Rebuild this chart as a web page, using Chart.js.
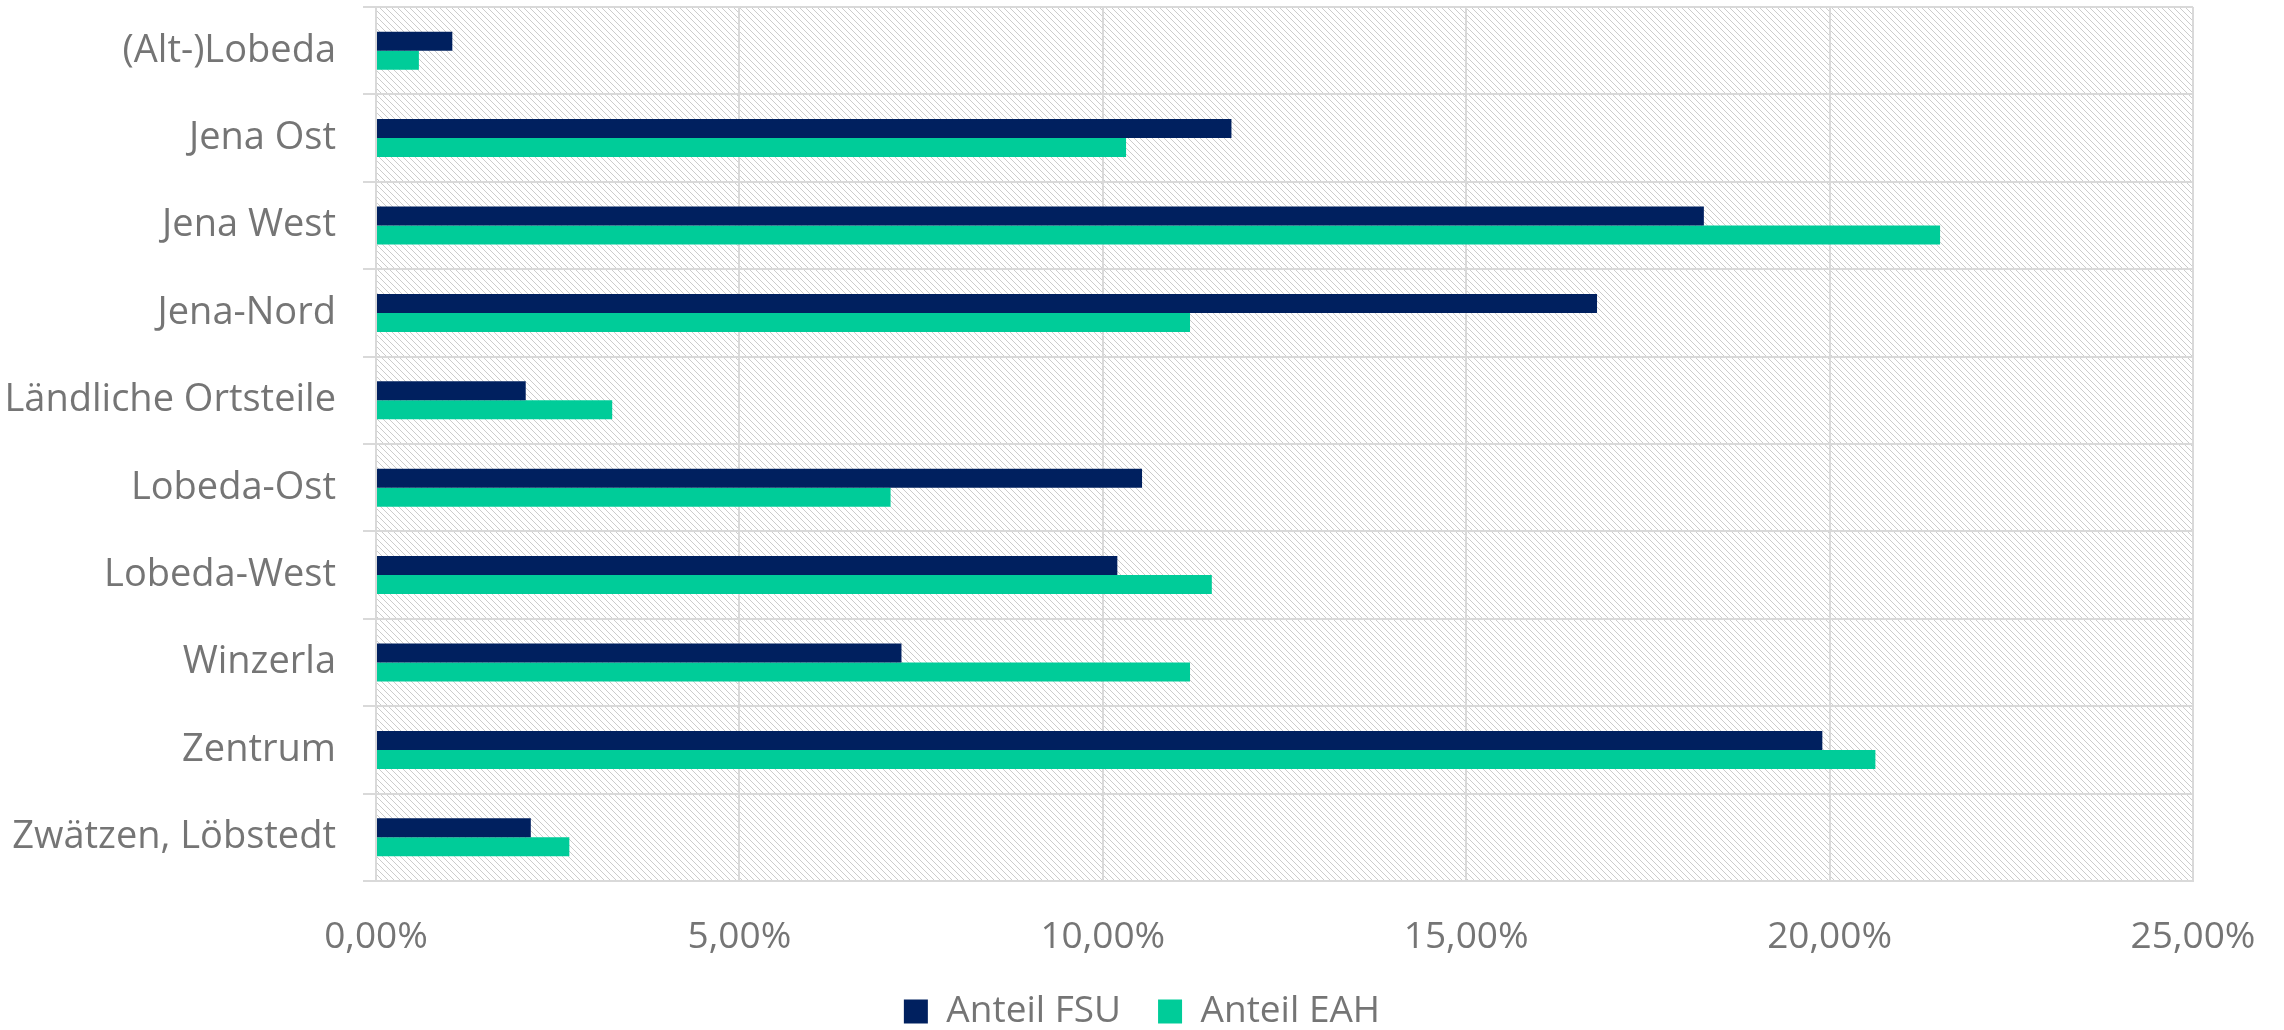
<!DOCTYPE html>
<html>
<head>
<meta charset="utf-8">
<script src="https://cdn.jsdelivr.net/npm/chart.js@4.4.1/dist/chart.umd.min.js"></script>
<style>
  html, body { margin: 0; padding: 0; background: #fff; }
  #wrap { width: 2284px; height: 1030px; }
</style>
</head>
<body>
<div id="wrap"><canvas id="myChart"></canvas></div>
<script>
const categories = [
  "(Alt-)Lobeda",
  "Jena Ost",
  "Jena West",
  "Jena-Nord",
  "Ländliche Ortsteile",
  "Lobeda-Ost",
  "Lobeda-West",
  "Winzerla",
  "Zentrum",
  "Zwätzen, Löbstedt",
];
const anteilFSU = [1.05, 11.77, 18.27, 16.8, 2.06, 10.54, 10.2, 7.23, 19.9, 2.13];
const anteilEAH = [0.59, 10.32, 21.52, 11.2, 3.25, 7.08, 11.5, 11.2, 20.63, 2.66];
const xTicks = [0, 5, 10, 15, 20, 25];

const gridColor = "#d9d9d9";
const textColor = "#757575";
const font = "Open Sans";

// hatched plot background, drawn under the grid
const hatch = {
  id: "hatch",
  beforeDraw(chart) {
    const { ctx, chartArea: a } = chart;
    const tile = document.createElement("canvas");
    tile.width = 6;
    tile.height = 6;
    const t = tile.getContext("2d");
    t.fillStyle = "#fff";
    t.fillRect(0, 0, 6, 6);
    t.fillStyle = "#cccccc";
    for (let i = 0; i < 6; i++) t.fillRect(i, i, 1, 1);
    ctx.save();
    ctx.fillStyle = ctx.createPattern(tile, "repeat");
    ctx.fillRect(a.left, a.top, a.right - a.left, a.bottom - a.top);
    ctx.restore();
  },
};

// center the legend on the whole canvas, not just left of the right padding
const legendShift = {
  id: "legendShift",
  afterLayout(chart) {
    const lg = chart.legend;
    lg.left = 91;
    lg.width = lg.right - lg.left;
  },
};

document.addEventListener("DOMContentLoaded", () => {
  const ctx = document.getElementById("myChart").getContext("2d");

  const data = {
    labels: categories,
    datasets: [
      {
        label: "Anteil FSU",
        data: anteilFSU,
        backgroundColor: "#00205f",
      },
      {
        label: "Anteil EAH",
        data: anteilEAH,
        backgroundColor: "#00cc99",
      },
    ],
  };

  const config = {
    type: "bar",
    data: data,
    options: {
      indexAxis: "y",
      responsive: true,
      maintainAspectRatio: false,
      animation: false,
      layout: {
        padding: { left: 0, right: 91, top: 7, bottom: -10 },
      },
      datasets: {
        bar: {
          categoryPercentage: 0.435,
          barPercentage: 1,
        },
      },
      plugins: {
        tooltip: { enabled: false },
        legend: {
          position: "bottom",
          labels: {
            color: textColor,
            font: { family: font, size: 37 },
            boxWidth: 24,
            boxHeight: 24,
            padding: 37,
          },
        },
      },
      scales: {
        x: {
          min: 0,
          max: 25,
          afterBuildTicks: (scale) => {
            scale.ticks = xTicks.map((v) => ({ value: v }));
          },
          afterFit: (scale) => {
            scale.height = 75;
            scale.paddingLeft = 0;
            scale.paddingRight = 0;
          },
          grid: {
            color: gridColor,
            lineWidth: 2,
            drawTicks: false,
          },
          border: { color: gridColor, width: 2 },
          ticks: {
            color: textColor,
            font: { family: font, size: 37 },
            padding: 34,
            maxRotation: 0,
            callback: (v) => v.toFixed(2).replace(".", ",") + "%",
          },
        },
        y: {
          afterFit: (scale) => {
            scale.width = 376;
            scale.paddingTop = 0;
            scale.paddingBottom = 0;
          },
          grid: {
            color: gridColor,
            lineWidth: 2,
            offset: true,
            tickLength: 13,
          },
          border: { color: gridColor, width: 2 },
          ticks: {
            color: textColor,
            font: { family: font, size: 38 },
            padding: 27,
          },
        },
      },
    },
    plugins: [hatch, legendShift],
  };

  new Chart(ctx, config);
});
</script>
</body>
</html>
